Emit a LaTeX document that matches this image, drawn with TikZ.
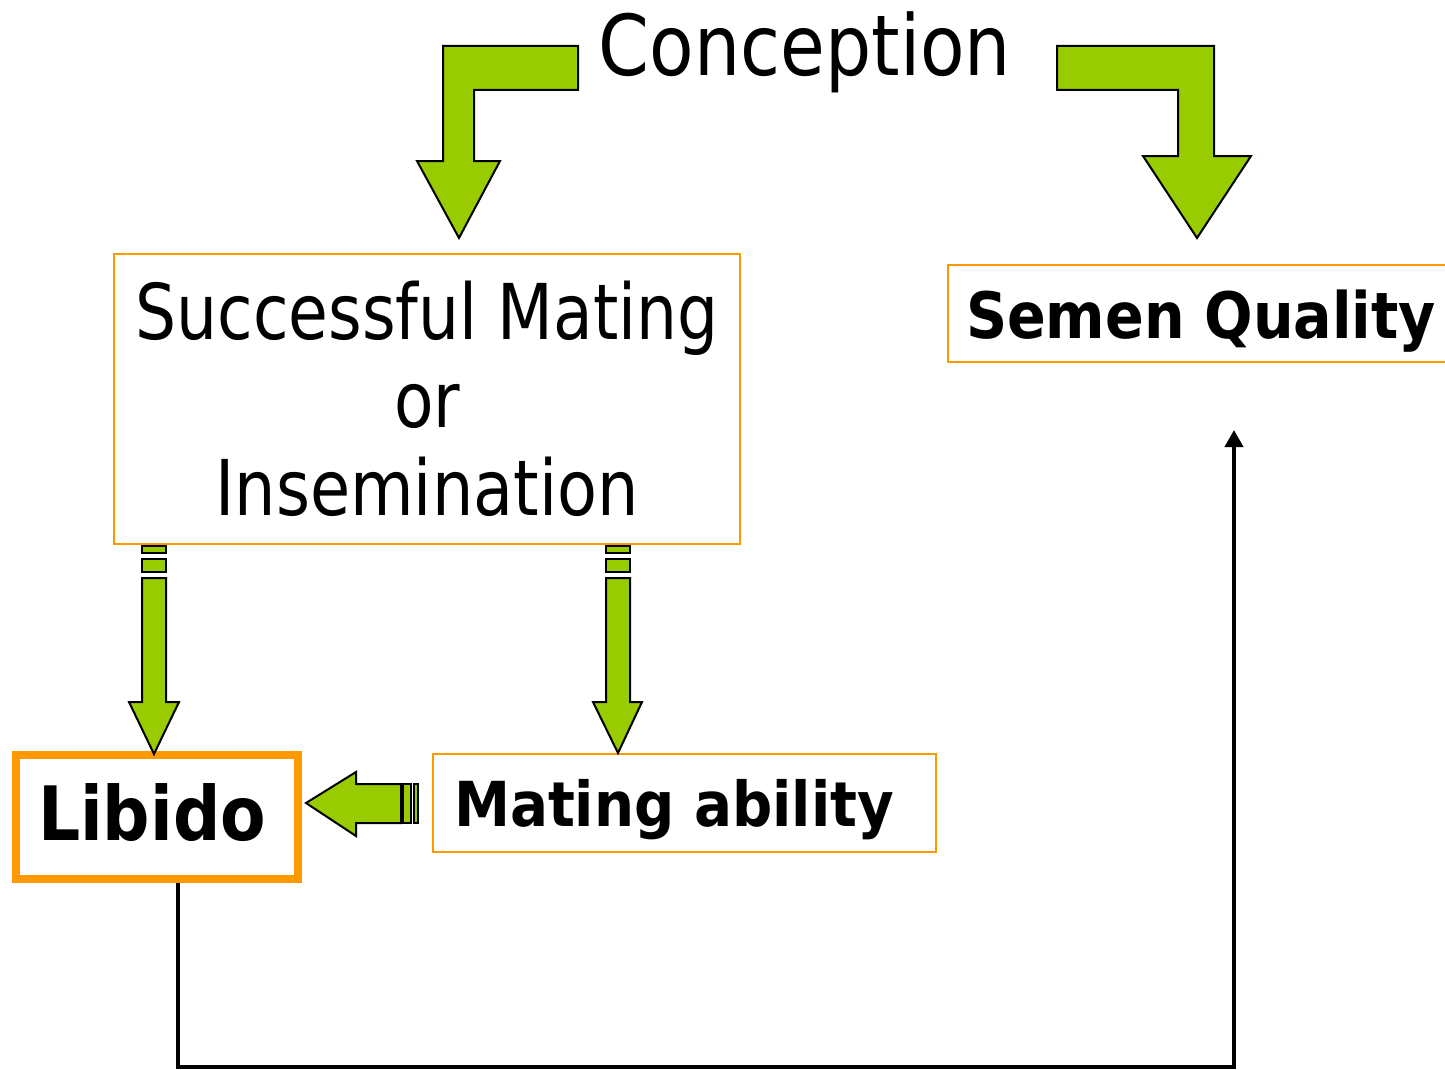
\documentclass[tikz,border=0pt]{standalone}
\usepackage{fontspec}
\setmainfont{DejaVu Sans}
\usetikzlibrary{arrows.meta}
\definecolor{grn}{HTML}{99CC00}
\definecolor{org}{HTML}{FF9900}
\newcommand\fitw[3]{\resizebox{#1}{\height}{\fontsize{#2}{#2}\selectfont #3}}
\begin{document}
\begin{tikzpicture}[x=1pt,y=-1pt,
  thinbox/.style={draw=org, line width=1.5pt, rectangle, inner sep=0pt},
  thickbox/.style={draw=org, line width=8pt, rectangle, inner sep=0pt},
  txt/.style={inner sep=0pt, outer sep=0pt},
  garrow/.style={fill=grn, draw=black, line width=2pt, line join=miter},
  conn/.style={draw=black, line width=4pt, line join=miter, -{Triangle[width=18pt,length=17pt]}}]
\useasboundingbox (0,0) rectangle (1445,1070);

% boxes
\node[thinbox, minimum width=626pt, minimum height=290pt] (succ) at (427,399) {};
\node[thinbox, minimum width=499pt, minimum height=97pt] (semen) at (1197.5,313.5) {};
\node[thinbox, minimum width=503pt, minimum height=98pt] (mating) at (684.5,803) {};
\node[thickbox, minimum width=282pt, minimum height=124pt] (libido) at (157,817) {};

% texts
\node[txt, anchor=base] (conc) at (805,76) {\fitw{412pt}{84pt}{Conception}};
\node[txt, anchor=base] (succa) at (427,339) {\fitw{583pt}{77pt}{Successful Mating}};
\node[txt, anchor=base] (succb) at (427,427) {\fitw{66pt}{77pt}{or}};
\node[txt, anchor=base] (succc) at (427,515) {\fitw{423pt}{77pt}{Insemination}};
\node[txt, anchor=base west] (semt) at (966,338) {\fitw{470pt}{64pt}{\bfseries Semen Quality}};
\node[txt, anchor=base west] (libt) at (38,840) {\fitw{228pt}{75pt}{\bfseries Libido}};
\node[txt, anchor=base west] (matt) at (454,826) {\fitw{440pt}{62pt}{\bfseries Mating ability}};

% bent arrows from Conception
\draw[garrow] (578,46) -- (443,46) -- (443,161) -- (417,161) -- (459,238) -- (500,161) -- (474,161) -- (474,90) -- (578,90) -- cycle;
\draw[garrow] (1057,46) -- (1214,46) -- (1214,156) -- (1251,156) -- (1197,238) -- (1143,156) -- (1178,156) -- (1178,90) -- (1057,90) -- cycle;

% striped arrow to Libido
\draw[garrow] (142,546) rectangle (166,553);
\draw[garrow] (142,559) rectangle (166,572);
\draw[garrow] (142,578) -- (166,578) -- (166,702) -- (179,702) -- (154,754) -- (129,702) -- (142,702) -- cycle;

% striped arrow to Mating ability
\draw[garrow] (606,546) rectangle (630,553);
\draw[garrow] (606,559) rectangle (630,572);
\draw[garrow] (606,578) -- (630,578) -- (630,702) -- (642,702) -- (618,753) -- (593,702) -- (606,702) -- cycle;

% striped arrow Mating ability -> Libido
\draw[garrow] (306,803) -- (356,772) -- (356,784) -- (401,784) -- (401,823) -- (356,823) -- (356,836) -- cycle;
\draw[garrow] (403,784) rectangle (411,823);
\draw[garrow] (414,784) rectangle (418,823);

% connector Libido -> Semen Quality
\coordinate (sqin) at (1234,430);
\draw[conn] ([xshift=21pt]libido.south) -- ++(0,184) -| (sqin);
\end{tikzpicture}
\end{document}
